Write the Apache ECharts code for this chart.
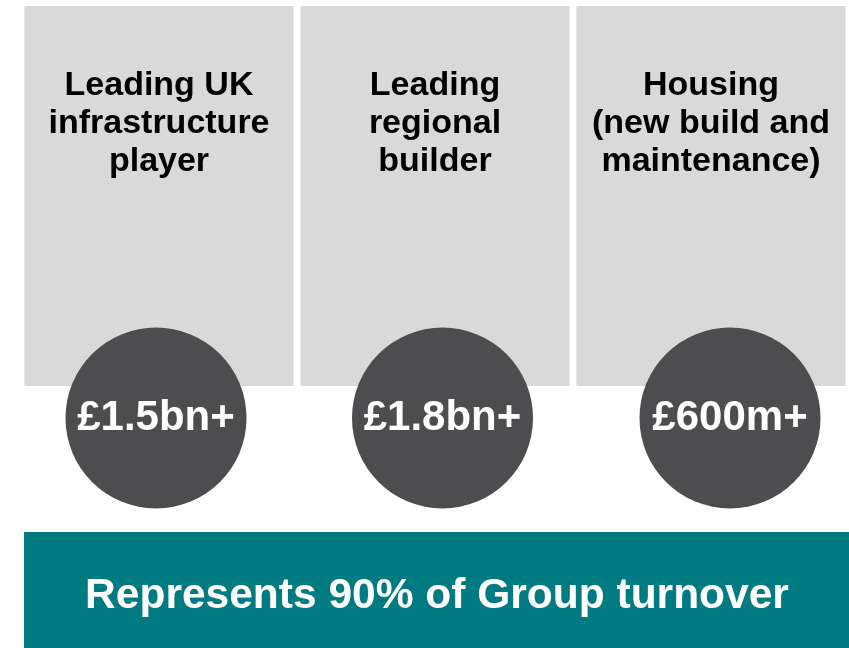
<!DOCTYPE html>
<html>
<head>
<meta charset="utf-8">
<script src="https://cdn.jsdelivr.net/npm/echarts@6/dist/echarts.min.js"></script>
<style>html,body{margin:0;padding:0;background:#fff}#c{width:849px;height:648px}</style>
</head>
<body>
<div id="c"></div>
<script>
const categories = ['Leading UK\ninfrastructure\nplayer', 'Leading\nregional\nbuilder', 'Housing\n(new build and\nmaintenance)'];
const panelValues = [1, 1, 1];
const turnoverLabels = ['£1.5bn+', '£1.8bn+', '£600m+'];
const circleBase = [0, 0, 0];
const bannerText = 'Represents 90% of Group turnover';

const FONT = '"Liberation Sans", Arial, Helvetica, sans-serif';
const circleOffsetsX = [-3, 7.5, 19];

const chart = echarts.init(document.getElementById('c'), null, {renderer: 'canvas'});
chart.setOption({
  animation: false,
  backgroundColor: '#ffffff',
  grid: {left: 21, right: 0, top: 6, bottom: 262, containLabel: false},
  xAxis: {type: 'category', data: categories, show: false},
  yAxis: {type: 'value', min: 0, max: 1, show: false},
  series: [
    {
      type: 'bar',
      data: panelValues,
      barWidth: 269,
      itemStyle: {color: '#d9d9d9'},
      label: {
        show: true,
        position: 'insideTop',
        distance: 61,
        formatter: p => categories[p.dataIndex],
        fontFamily: FONT,
        fontWeight: 'bold',
        fontSize: 34,
        lineHeight: 38,
        color: '#000000',
        align: 'center'
      },
      silent: true
    },
    {
      type: 'scatter',
      clip: false,
      symbol: 'circle',
      symbolSize: 181,
      data: circleBase.map((v, i) => ({
        value: v,
        symbolOffset: [circleOffsetsX[i], 32]
      })),
      itemStyle: {color: '#4d4d4f', opacity: 1},
      label: {
        show: true,
        position: 'inside',
        formatter: p => turnoverLabels[p.dataIndex],
        fontFamily: FONT,
        fontWeight: 'bold',
        fontSize: 42,
        padding: [8, 0, 0, 0],
        color: '#ffffff'
      },
      silent: true,
      z: 5
    }
  ],
  graphic: [
    {
      type: 'group',
      left: 24,
      top: 532,
      children: [
        {type: 'rect', shape: {x: 0, y: 0, width: 825, height: 116}, style: {fill: '#007b82'}},
        {
          type: 'text',
          x: 413, y: 64,
          style: {
            text: bannerText,
            fill: '#ffffff',
            font: 'bold 42.5px ' + FONT,
            textAlign: 'center',
            textVerticalAlign: 'middle'
          }
        }
      ]
    }
  ]
});
</script>
</body>
</html>
